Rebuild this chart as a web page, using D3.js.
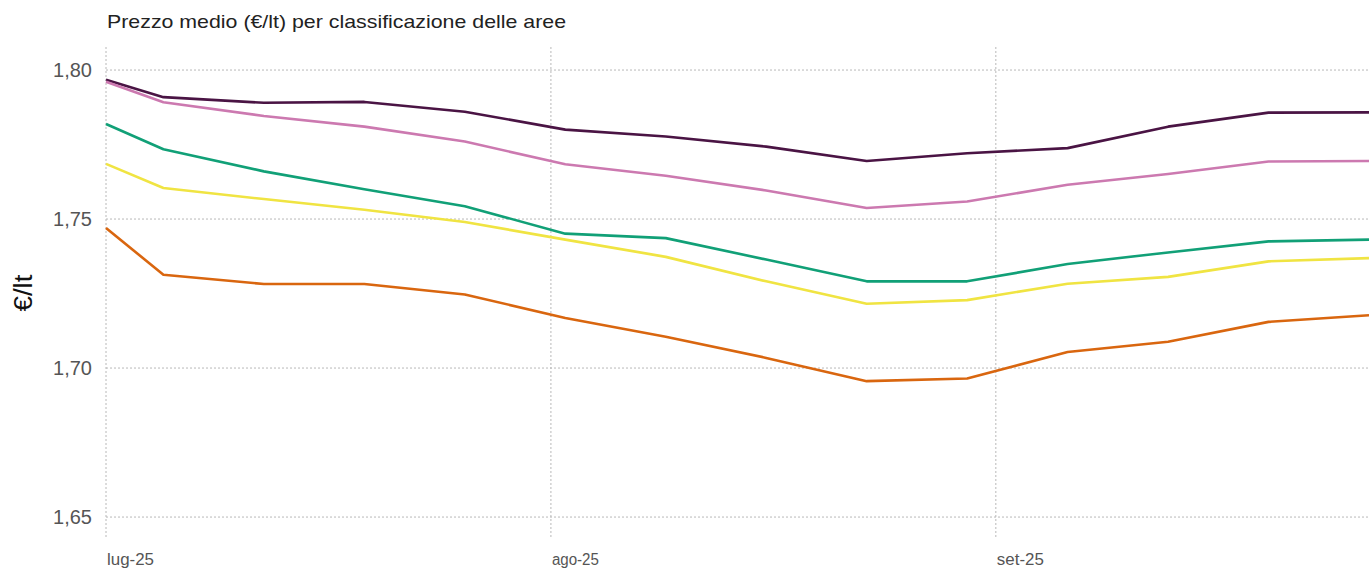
<!DOCTYPE html>
<html>
<head>
<meta charset="utf-8">
<script src="https://cdn.jsdelivr.net/npm/d3@7"></script>
<style>
  body { margin: 0; background: #fff; }
  svg { display: block; }
</style>
</head>
<body>
<svg id="chart"></svg>
<script>
const W = 1369, H = 569;
const margin = {top: 45, right: 0, bottom: 29, left: 106};
const width  = W - margin.left - margin.right;
const height = H - margin.top - margin.bottom;
const parseDate = d3.timeParse("%Y-%m-%d");

// weekly sample dates
const dates = ["2025-07-01","2025-07-05","2025-07-12","2025-07-19","2025-07-26",
  "2025-08-02","2025-08-09","2025-08-16","2025-08-23","2025-08-30",
  "2025-09-06","2025-09-13","2025-09-20","2025-09-27"];

// one array per area class
const serieA = [1.7967,1.7909,1.7890,1.7893,1.7860,1.7800,1.7777,1.7743,1.7695,1.7721,1.7738,1.7810,1.7857,1.7858];
const serieB = [1.7961,1.7892,1.7846,1.7810,1.7760,1.7684,1.7645,1.7596,1.7537,1.7559,1.7615,1.7651,1.7693,1.7695];
const serieC = [1.7819,1.7734,1.7660,1.7600,1.7543,1.7451,1.7436,1.7364,1.7291,1.7291,1.7349,1.7388,1.7425,1.7431];
const serieD = [1.7685,1.7604,1.7567,1.7531,1.7490,1.7431,1.7373,1.7291,1.7216,1.7228,1.7283,1.7306,1.7358,1.7369];
const serieE = [1.7470,1.7313,1.7282,1.7282,1.7247,1.7168,1.7105,1.7034,1.6956,1.6965,1.7054,1.7088,1.7155,1.7177];

const yTicks = [1.65, 1.70, 1.75, 1.80];
const xTicks = ["2025-07-01", "2025-08-01", "2025-09-01"];
const monthNames = ["gen","feb","mar","apr","mag","giu","lug","ago","set","ott","nov","dic"];

const series = [
  {values: serieA, color: "#4a1444"},
  {values: serieB, color: "#cc79b0"},
  {values: serieC, color: "#11a077"},
  {values: serieD, color: "#f0e442"},
  {values: serieE, color: "#d9660f"}
];

const svg = d3.select("#chart")
  .attr("width", W)
  .attr("height", H);

const g = svg.append("g")
  .attr("transform", "translate(" + margin.left + "," + margin.top + ")");

const x = d3.scaleTime()
  .domain([parseDate("2025-07-01"), parseDate("2025-09-27")])
  .range([0, width]);
const y = d3.scaleLinear()
  .domain([1.6423, 1.8084])
  .range([height, 0]);

// title
svg.append("text")
  .attr("x", 107)
  .attr("y", 28)
  .attr("fill", "#222")
  .attr("textLength", 459)
  .attr("lengthAdjust", "spacingAndGlyphs")
  .style("font-family", "Liberation Sans, Arial, sans-serif")
  .style("font-size", "19px")
  .text("Prezzo medio (€/lt) per classificazione delle aree");

// y axis title
svg.append("text")
  .attr("transform", "translate(32,293) rotate(-90)")
  .attr("text-anchor", "middle")
  .attr("fill", "#111")
  .attr("textLength", 37)
  .attr("lengthAdjust", "spacingAndGlyphs")
  .style("font-family", "Liberation Sans, Arial, sans-serif")
  .style("font-size", "25px")
  .text("€/lt");

// grid
g.append("g")
  .selectAll("line")
  .data(yTicks)
  .join("line")
    .attr("x1", 0)
    .attr("x2", width)
    .attr("y1", d => y(d))
    .attr("y2", d => y(d))
    .attr("stroke", "#b8b8b8")
    .attr("stroke-width", 1)
    .attr("stroke-dasharray", "2,2");

g.append("g")
  .selectAll("line")
  .data(xTicks.map(parseDate))
  .join("line")
    .attr("x1", d => x(d))
    .attr("x2", d => x(d))
    .attr("y1", 2)
    .attr("y2", height - 2)
    .attr("stroke", "#b8b8b8")
    .attr("stroke-width", 1)
    .attr("stroke-dasharray", "2,2");

// y tick labels
const fmt = d => d3.format(".2f")(d).replace(".", ",");
g.append("g")
  .selectAll("text")
  .data(yTicks)
  .join("text")
    .attr("x", -14)
    .attr("y", d => y(d))
    .attr("dy", "0.35em")
    .attr("text-anchor", "end")
    .attr("fill", "#555")
    .style("font-family", "Liberation Sans, Arial, sans-serif")
    .style("font-size", "20px")
    .text(fmt);

// x tick labels
g.append("g")
  .selectAll("text")
  .data(xTicks.map(parseDate))
  .join("text")
    .attr("x", d => x(d) + 1)
    .attr("y", height + 25)
    .attr("text-anchor", "start")
    .attr("fill", "#555")
    .attr("textLength", 47)
    .attr("lengthAdjust", "spacingAndGlyphs")
    .style("font-family", "Liberation Sans Narrow, Arial Narrow, Liberation Sans, sans-serif")
    .style("font-size", "16px")
    .text(d => monthNames[d.getMonth()] + "-" + d3.timeFormat("%y")(d));

// lines
const line = d3.line()
  .x((d, i) => x(parseDate(dates[i])))
  .y(d => y(d));

g.append("g")
  .selectAll("path")
  .data(series)
  .join("path")
    .attr("fill", "none")
    .attr("stroke", d => d.color)
    .attr("stroke-width", 2.6)
    .attr("stroke-linejoin", "round")
    .attr("d", d => line(d.values));
</script>
</body>
</html>
